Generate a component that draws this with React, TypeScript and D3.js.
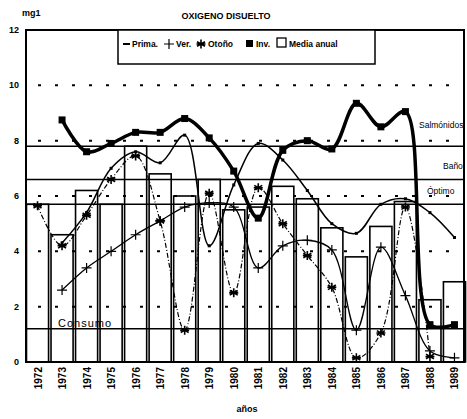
import React, { useEffect, useRef } from 'react';
import * as d3 from 'd3';

// years on the x axis
const years = ['1972', '1973', '1974', '1975', '1976', '1977', '1978', '1979', '1980',
  '1981', '1982', '1983', '1984', '1985', '1986', '1987', '1988', '1989'];

// Media anual (bars)
const mediaAnual = [5.7, 4.6, 6.2, 5.7, 7.8, 6.8, 6.0, 6.6, 5.5, 5.6, 6.35, 5.9, 4.85, 3.8, 4.9, 5.8, 2.25, 2.9];

// seasonal series (null = no reading)
const primavera = [null, 4.3, 5.4, 7.0, 7.6, 7.2, 8.2, 4.2, 6.4, 7.9, 7.3, 6.2, 5.0, 4.65, 5.7, 5.9, 5.4, 4.5];
const verano = [null, 2.6, 3.4, 4.0, 4.6, 5.1, 5.6, 5.75, 5.6, 3.4, 4.2, 4.4, 4.05, 1.15, 4.15, 2.4, 0.4, 0.15];
const otono = [5.65, 4.2, 5.3, 6.6, 7.45, 5.1, 1.15, 6.1, 2.5, 6.3, 5.0, 3.85, 2.7, 0.15, 1.05, 5.6, 0.2, null];
const invierno = [null, 8.75, 7.6, 7.9, 8.3, 8.3, 8.8, 8.1, 6.9, 5.2, 7.65, 8.0, 7.7, 9.35, 8.5, 9.05, 1.35, 1.35];

// reference levels
const refNames = ['Salmónidos', 'Baño', 'Óptimo', 'Consumo'];
const refValues = [7.8, 6.6, 5.7, 1.2];

const yTicks = [0, 2, 4, 6, 8, 10, 12];
const gridValues = [2, 4, 6, 8, 10];

export default function App() {
  const ref = useRef<SVGSVGElement>(null);

  useEffect(() => {
    document.body.style.margin = '0';
    const svg = d3.select(ref.current);
    svg.selectAll('*').remove();

    const left = 26, right = 464, top = 30, bottom = 362;
    const font = "'Liberation Sans', Arial, sans-serif";

    const x = d3.scaleBand()
      .domain(years)
      .range([left, 466])
      .paddingInner(0.1)
      .paddingOuter(0.02);
    const y = d3.scaleLinear().domain([0, 12]).range([bottom, top]);
    const cx = (i: number) => (x(years[i]) as number) + x.bandwidth() / 2;

    svg.append('rect').attr('width', 467).attr('height', 419).attr('fill', '#fff');

    svg.append('defs').append('clipPath').attr('id', 'plot')
      .append('rect').attr('x', left).attr('y', top).attr('width', right - left).attr('height', bottom - top);

    // bars
    svg.append('g').selectAll('rect')
      .data(mediaAnual)
      .enter()
      .append('rect')
      .attr('x', (d, i) => x(years[i]) as number)
      .attr('y', d => y(d))
      .attr('width', x.bandwidth())
      .attr('height', d => bottom - y(d))
      .attr('fill', 'none')
      .attr('stroke', '#000')
      .attr('stroke-width', 1.6);

    // dotted grid
    svg.append('g').selectAll('line')
      .data(gridValues)
      .enter()
      .append('line')
      .attr('x1', left + 12).attr('x2', right)
      .attr('y1', d => y(d)).attr('y2', d => y(d))
      .attr('stroke', '#000')
      .attr('stroke-width', 2)
      .attr('stroke-dasharray', '3,14');

    // reference lines
    svg.append('g').selectAll('line')
      .data(refValues)
      .enter()
      .append('line')
      .attr('x1', left).attr('x2', right)
      .attr('y1', d => y(d)).attr('y2', d => y(d))
      .attr('stroke', '#000')
      .attr('stroke-width', 1.5);

    // label x, y offset above its line
    const labelPos = [[419, -18], [443, -10], [427, -10], [58, -2]];
    svg.append('g').selectAll('text')
      .data(refNames)
      .enter()
      .append('text')
      .attr('x', (d, i) => labelPos[i][0])
      .attr('y', (d, i) => y(refValues[i]) + labelPos[i][1])
      .attr('font-family', font)
      .attr('font-size', (d, i) => (i === 3 ? 11 : 8.5))
      .attr('letter-spacing', (d, i) => (i === 3 ? 1 : 0))
      .text(d => d);

    const line = d3.line<number | null>()
      .defined(d => d != null)
      .x((d, i) => cx(i))
      .y(d => y(d as number))
      .curve(d3.curveCatmullRom.alpha(0.5));

    const curves = svg.append('g').attr('clip-path', 'url(#plot)');

    curves.append('path').datum(otono).attr('d', line)
      .attr('fill', 'none').attr('stroke', '#000').attr('stroke-width', 1.2)
      .attr('stroke-dasharray', '5,2,1,2');
    curves.append('path').datum(verano).attr('d', line)
      .attr('fill', 'none').attr('stroke', '#000').attr('stroke-width', 1.3);
    curves.append('path').datum(primavera).attr('d', line)
      .attr('fill', 'none').attr('stroke', '#000').attr('stroke-width', 1.5);
    curves.append('path').datum(invierno).attr('d', line)
      .attr('fill', 'none').attr('stroke', '#000').attr('stroke-width', 3.5);

    const idx = (arr: (number | null)[]) => arr.map((v, i) => [v, i] as [number | null, number]).filter(p => p[0] != null) as [number, number][];

    // markers
    const star = 'M0,-4.5V4.5M-4,-2.3L4,2.3M-4,2.3L4,-2.3M-4.5,0H4.5';
    const plus = 'M0,-5V5M-5,0H5';

    curves.append('g').selectAll('path')
      .data(idx(otono)).enter().append('path')
      .attr('transform', d => `translate(${cx(d[1])},${y(d[0])})`)
      .attr('d', star).attr('stroke', '#000').attr('stroke-width', 1.6);
    curves.append('g').selectAll('path')
      .data(idx(verano)).enter().append('path')
      .attr('transform', d => `translate(${cx(d[1])},${y(d[0])})`)
      .attr('d', plus).attr('stroke', '#000').attr('stroke-width', 1.2);
    curves.append('g').selectAll('rect')
      .data(idx(primavera)).enter().append('rect')
      .attr('x', d => cx(d[1]) - 1.5).attr('y', d => y(d[0]) - 1.5)
      .attr('width', 3).attr('height', 3).attr('fill', '#000');
    curves.append('g').selectAll('rect')
      .data(idx(invierno)).enter().append('rect')
      .attr('x', d => cx(d[1]) - 3.5).attr('y', d => y(d[0]) - 3.5)
      .attr('width', 7).attr('height', 7).attr('fill', '#000');

    // frame
    svg.append('rect')
      .attr('x', left).attr('y', top)
      .attr('width', right - left).attr('height', bottom - top)
      .attr('fill', 'none').attr('stroke', '#000').attr('stroke-width', 2);

    // y axis labels
    svg.append('g').selectAll('text')
      .data(yTicks).enter().append('text')
      .attr('x', 19).attr('y', d => y(d) + 3)
      .attr('text-anchor', 'end')
      .attr('font-family', font).attr('font-size', 9).attr('font-weight', 'bold')
      .text(d => d);

    // x axis labels
    svg.append('g').selectAll('text')
      .data(years).enter().append('text')
      .attr('transform', (d, i) => `translate(${cx(i) + 4},${bottom + 5}) rotate(-90)`)
      .attr('text-anchor', 'end')
      .attr('font-family', font).attr('font-size', 10).attr('font-weight', 'bold')
      .text(d => d);

    svg.append('text').attr('x', 247).attr('y', 412).attr('text-anchor', 'middle')
      .attr('font-family', font).attr('font-size', 9).attr('font-weight', 'bold').text('años');
    svg.append('text').attr('x', 22).attr('y', 16)
      .attr('font-family', font).attr('font-size', 9).attr('font-weight', 'bold').text('mg1');
    svg.append('text').attr('x', 226).attr('y', 19).attr('text-anchor', 'middle')
      .attr('font-family', font).attr('font-size', 9).attr('font-weight', 'bold').text('OXIGENO DISUELTO');

    // legend
    const lg = svg.append('g');
    lg.append('rect').attr('x', 118).attr('y', top).attr('width', 257).attr('height', 34)
      .attr('fill', '#fff').attr('stroke', '#000').attr('stroke-width', 1.5);
    const ly = 47;
    lg.append('line').attr('x1', 123).attr('x2', 130).attr('y1', ly - 3).attr('y2', ly - 3)
      .attr('stroke', '#000').attr('stroke-width', 2);
    lg.append('path').attr('transform', `translate(169,${ly - 3})`).attr('d', plus)
      .attr('stroke', '#000').attr('stroke-width', 1.2);
    lg.append('path').attr('transform', `translate(201,${ly - 3})`).attr('d', star)
      .attr('stroke', '#000').attr('stroke-width', 1.6);
    lg.append('rect').attr('x', 246).attr('y', ly - 7).attr('width', 7).attr('height', 7).attr('fill', '#000');
    lg.append('rect').attr('x', 277).attr('y', ly - 9).attr('width', 9).attr('height', 9)
      .attr('fill', 'none').attr('stroke', '#000').attr('stroke-width', 1.3);
    const names = ['Prima.', 'Ver.', 'Otoño', 'Inv.', 'Media anual'];
    const nx = [132, 176, 208, 256, 289];
    lg.selectAll('text.lt').data(names).enter().append('text')
      .attr('x', (d, i) => nx[i]).attr('y', ly)
      .attr('font-family', font).attr('font-size', 8.5).attr('font-weight', 'bold')
      .text(d => d);
  }, []);

  return <svg ref={ref} width={467} height={419} style={{ display: 'block' }} />;
}
